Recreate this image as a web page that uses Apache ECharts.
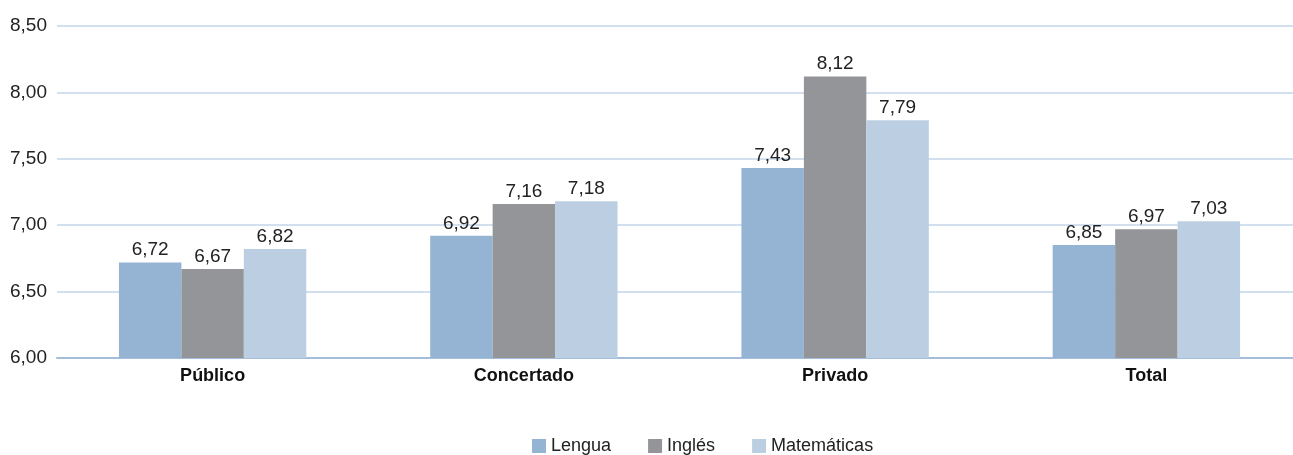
<!DOCTYPE html>
<html>
<head>
    <meta charset="utf-8" />
    <title></title>
    <script src="https://cdn.jsdelivr.net/npm/echarts@6/dist/echarts.min.js"></script>
</head>
<body style="margin:0">
<div id="main" style="width: 1293px; height: 455px"></div>
    <script type="text/javascript">
        var categories = ['Público', 'Concertado', 'Privado', 'Total'];
        var lengua = [6.72, 6.92, 7.43, 6.85];
        var ingles = [6.67, 7.16, 8.12, 6.97];
        var matematicas = [6.82, 7.18, 7.79, 7.03];

        var font = '"Liberation Sans", Arial, sans-serif';
        function fmt(v) {
            return v.toFixed(2).replace('.', ',');
        }
        function bar(name, data, color) {
            return {
                name: name,
                type: 'bar',
                data: data,
                barGap: 0,
                barCategoryGap: '39.8%',
                itemStyle: { color: color },
                label: {
                    show: true,
                    position: 'top',
                    distance: 3,
                    color: '#222',
                    fontFamily: font,
                    fontSize: 19,
                    formatter: function (p) { return fmt(p.value); }
                }
            };
        }

        var myChart = echarts.init(document.getElementById('main'));
        myChart.setOption({
            animation: false,
            // the plot runs a little past the right edge of the window
            grid: { left: 57, right: -9, top: 26, bottom: 97, outerBoundsMode: 'none' },
            legend: {
                top: 432,
                left: 527,
                icon: 'rect',
                itemWidth: 14,
                itemHeight: 14,
                itemGap: 37,
                textStyle: { fontFamily: font, fontSize: 18, color: '#222' },
                data: ['Lengua', 'Inglés', 'Matemáticas']
            },
            xAxis: {
                type: 'category',
                data: categories,
                axisLine: { lineStyle: { color: '#a3bddb', width: 2 } },
                axisTick: { show: false },
                axisLabel: { fontFamily: font, fontSize: 18, fontWeight: 'bold', color: '#111', margin: 9 }
            },
            yAxis: {
                type: 'value',
                min: 6,
                max: 8.5,
                interval: 0.5,
                axisLabel: {
                    fontFamily: font, fontSize: 19, color: '#222', margin: 10,
                    formatter: function (v) { return fmt(v); }
                },
                splitLine: { lineStyle: { color: '#c3d5ea', width: 1.5 } }
            },
            series: [
                bar('Lengua', lengua, '#95b3d3'),
                bar('Inglés', ingles, '#939598'),
                bar('Matemáticas', matematicas, '#bccfe2')
            ]
        });
    </script>
</body>
</html>
